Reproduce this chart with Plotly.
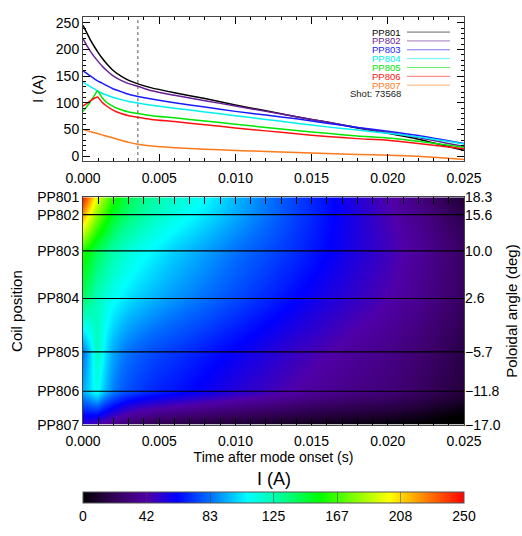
import plotly.graph_objects as go

# ---------------- data ----------------
t_ms = [0, 0.25, 0.5, 0.75, 0.95, 1.25, 1.5, 2, 2.5, 3, 3.6, 4.5, 6, 8, 10, 12, 14, 16, 18, 20, 22, 25]
time_s = [v / 1000.0 for v in t_ms]

pp801 = [245, 231, 217, 205, 196, 184, 175, 160, 150, 142, 135.5, 128, 119, 108, 96, 85, 74, 64, 53, 43, 32, 11]
pp802 = [220, 207, 196, 186, 179, 169, 162, 150, 142, 136, 131, 122.5, 114, 104, 94, 84, 74, 64, 54, 44.5, 35, 18]
pp803 = [160, 155, 150, 145, 141, 137, 133, 126, 121, 116, 112, 107, 100, 92, 84, 77, 70, 62, 54, 47, 39, 24]
pp804 = [139, 134, 130, 126, 122.5, 118, 115, 110, 106, 102.5, 99.5, 95.5, 90, 83, 76, 69, 62, 55, 49, 43, 36, 23]
pp805 = [84, 93, 103, 114, 122, 110, 102, 93, 87, 83, 80, 76, 72, 66, 60, 54, 48, 43, 38, 34, 28, 17]
pp806 = [94, 99, 104, 108.5, 111, 101, 95, 86, 80, 76, 73, 69, 65, 59, 53, 47.5, 42, 37, 33, 30, 24, 14]
pp807 = [50, 48, 46, 44, 42.5, 40, 38, 34, 30, 26, 22.5, 19, 16, 13, 11, 9, 7, 5, 3.5, 2, 0, -6]

coils = ["PP801", "PP802", "PP803", "PP804", "PP805", "PP806", "PP807"]
series = [pp801, pp802, pp803, pp804, pp805, pp806, pp807]
line_colors = ["#000000", "#6a1f96", "#1a1aff", "#00f0f0", "#00e600", "#ff1010", "#ff7a1a"]
angles = [18.3, 15.6, 10.0, 2.6, -5.7, -11.8, -17.0]
angle_labels = ["18.3", "15.6", "10.0", "2.6", "\u22125.7", "\u221211.8", "\u221217.0"]
shot = 73568
marker_time = 0.0036
xtick_vals = [0.0, 0.005, 0.010, 0.015, 0.020, 0.025]
cbar_labels = ["0", "42", "83", "125", "167", "208", "250"]
zmin, zmax = 0, 250

# ---------------- style ----------------
FONT = "Liberation Sans, Arial, Helvetica, sans-serif"
W, H = 522, 536
L, R = 83, 464

def px(x):
    return x / W

def py(y):
    return 1 - y / H

rainbow = [
    [0.0, "#000000"], [0.05, "#220038"], [0.11, "#3e0070"], [0.17, "#5000a8"],
    [0.246, "#0000ff"], [0.334, "#0070ff"], [0.432, "#00ffff"], [0.52, "#00ff98"],
    [0.622, "#00ff00"], [0.71, "#80ff00"], [0.805, "#ffff00"], [0.9, "#ff8000"],
    [1.0, "#ff0000"],
]

fig = go.Figure()

for name, ys, col in zip(coils, series, line_colors):
    fig.add_trace(go.Scatter(x=time_s, y=ys, mode="lines", name=name,
                             line=dict(color=col, width=1.5, shape="spline", smoothing=0.6),
                             xaxis="x", yaxis="y", showlegend=False))

fig.add_trace(go.Heatmap(
    x=time_s, y=angles, z=series, zsmooth="best", zmin=zmin, zmax=zmax,
    colorscale=rainbow, xaxis="x2", yaxis="y2",
    colorbar=dict(
        orientation="h", x=px((L + R) / 2), xanchor="center", y=py(506), yanchor="top",
        len=R - L, lenmode="pixels", thickness=11, xpad=0, ypad=0,
        outlinewidth=1, outlinecolor="#555555",
        tickvals=[i * (zmax - zmin) / 6 for i in range(7)], ticktext=cbar_labels,
        ticks="inside", ticklen=11, tickcolor="rgba(60,60,60,0.5)",
        tickfont=dict(size=14, family=FONT, color="#000000"),
    ),
))

# invisible trace to carry the right-hand angle axis
fig.add_trace(go.Scatter(x=[time_s[0]] * len(angles), y=angles, mode="markers",
                         marker=dict(opacity=0), xaxis="x2", yaxis="y3",
                         showlegend=False, hoverinfo="skip"))

common_x = dict(range=[0, 0.025], tickvals=xtick_vals, tickformat=".3f", ticks="inside",
                ticklen=7, tickcolor="#000000", showline=True, linecolor="#444444", linewidth=1,
                mirror="allticks", showgrid=False, zeroline=False, automargin=False,
                minor=dict(dtick=0.001, ticks="inside", ticklen=3, tickcolor="#000000"),
                tickfont=dict(size=14, family=FONT, color="#000000"))

fig.update_layout(
    width=W, height=H, template="none",
    margin=dict(l=0, r=0, t=0, b=0),
    paper_bgcolor="white", plot_bgcolor="white",
    font=dict(family=FONT, size=14, color="#000000"),
    showlegend=False,
    xaxis=dict(domain=[px(L), px(R)], anchor="y", ticklabelstandoff=4, **common_x),
    yaxis=dict(domain=[py(165.7), py(17.3)], anchor="x", range=[-9, 261],
               tickvals=[0, 50, 100, 150, 200, 250], ticks="inside", ticklen=7,
               tickcolor="#000000", showline=True, linecolor="#444444", linewidth=1,
               mirror="allticks", showgrid=False, zeroline=False, automargin=False,
               minor=dict(dtick=10, ticks="inside", ticklen=3, tickcolor="#000000"),
               tickfont=dict(size=14, family=FONT, color="#000000"),
               title=dict(text="I (A)", standoff=8, font=dict(size=15, family=FONT))),
    xaxis2=dict(domain=[px(L), px(R)], anchor="y2", ticklabelstandoff=3,
                title=dict(text="Time after mode onset (s)", standoff=0,
                           font=dict(size=14, family=FONT)),
                **common_x),
    yaxis2=dict(domain=[py(437), py(203)], anchor="x2", range=[angles[-1], angles[0]],
                tickvals=angles, ticktext=coils, ticks="", showline=True,
                linecolor="#444444", linewidth=1, mirror=True, showgrid=False,
                zeroline=False, automargin=False,
                tickfont=dict(size=14, family=FONT, color="#000000"),
                title=dict(text="Coil position", standoff=10, font=dict(size=15, family=FONT))),
    yaxis3=dict(overlaying="y2", anchor="x2", side="right", range=[angles[-1], angles[0]],
                tickvals=angles, ticktext=angle_labels, ticks="", showgrid=False,
                zeroline=False, automargin=False, showline=False,
                tickfont=dict(size=14, family=FONT, color="#000000"),
                title=dict(text="Poloidal angle (deg)", standoff=6,
                           font=dict(size=15, family=FONT))),
)

shapes = []
annotations = []
# dotted marker line in top panel
shapes.append(dict(type="line", xref="x", yref="y domain", x0=marker_time, x1=marker_time,
                   y0=0, y1=1, line=dict(color="#555555", width=1, dash="dot")))
# coil boundary lines on heatmap
for a in angles[1:-1]:
    shapes.append(dict(type="line", xref="x2 domain", yref="y2", x0=0, x1=1, y0=a, y1=a,
                       line=dict(color="#000000", width=1.2)))
# legend block
for i, (name, col) in enumerate(zip(coils, line_colors)):
    yy = py(33 + 9.1 * i)
    annotations.append(dict(text=name, x=px(402), y=yy, xref="paper", yref="paper",
                            xanchor="right", yanchor="middle", showarrow=False, borderpad=0,
                            font=dict(size=9.5, family=FONT, color=col)))
    shapes.append(dict(type="line", xref="paper", yref="paper", x0=px(407), x1=px(450),
                       y0=yy, y1=yy, line=dict(color=col, width=1), opacity=0.6))
annotations.append(dict(text=f"Shot: {shot}", x=px(402), y=py(33 + 9.1 * 7), xref="paper",
                        yref="paper", xanchor="right", yanchor="middle", showarrow=False,
                        borderpad=0, font=dict(size=9.5, family=FONT, color="#222222")))
# colour bar title
annotations.append(dict(text="I (A)", x=px((L + R) / 2), y=py(493), xref="paper", yref="paper",
                        xanchor="center", yanchor="middle", showarrow=False,
                        font=dict(size=18, family=FONT, color="#000000")))

fig.update_layout(shapes=shapes, annotations=annotations)
fig.write_html("out.html",
               post_script="document.body.style.margin='0';document.documentElement.style.overflow='hidden';",
               config={"displayModeBar": False})
